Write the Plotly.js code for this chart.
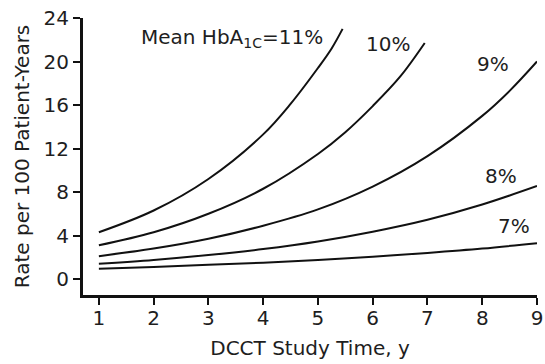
<!DOCTYPE html>
<html>
<head>
<meta charset="utf-8">
<script src="https://cdn.plot.ly/plotly-3.0.1.min.js"></script>
<style>html,body{margin:0;padding:0;background:#fff;}#chart{width:545px;height:364px;}</style>
</head>
<body>
<div id="chart"></div>
<script>
// Data (rate per 100 patient-years vs DCCT study time)
const years11 = [1, 2, 3, 4, 4.5, 5, 5.25, 5.45];
const rate11 = [4.3, 6.3, 9.2, 13.3, 16.1, 19.4, 21.2, 23.0];
const years10 = [1, 2, 3, 4, 5, 5.5, 6, 6.5, 6.95];
const rate10 = [3.1, 4.3, 6.0, 8.3, 11.5, 13.5, 15.9, 18.6, 21.7];
const years9 = [1, 2, 3, 4, 5, 6, 7, 8, 8.5, 9];
const rate9 = [2.1, 2.8, 3.7, 4.9, 6.4, 8.5, 11.3, 15.0, 17.3, 20.0];
const years8 = [1, 2, 3, 4, 5, 6, 7, 8, 9];
const rate8 = [1.4, 1.75, 2.2, 2.75, 3.45, 4.35, 5.45, 6.85, 8.55];
const years7 = [1, 2, 3, 4, 5, 6, 7, 8, 9];
const rate7 = [0.95, 1.1, 1.3, 1.5, 1.75, 2.05, 2.4, 2.8, 3.3];
const seriesLabels = ['Mean HbA<sub>1C</sub>=11%', '10%', '9%', '8%', '7%'];
const xTicks = [1, 2, 3, 4, 5, 6, 7, 8, 9];
const yTicks = [0, 4, 8, 12, 16, 20, 24];

const FONT = 'DejaVu Sans, Liberation Sans, Arial, sans-serif';
const TXT = '#1e1e1e';
const xs = [years11, years10, years9, years8, years7];
const ys = [rate11, rate10, rate9, rate8, rate7];
const traces = xs.map((x, i) => ({
  x: x, y: ys[i], type: 'scatter', mode: 'lines',
  line: {color: '#111', width: 2, shape: 'spline', smoothing: 1},
  hoverinfo: 'skip', showlegend: false
}));

const labelPos = [
  {x: 3.43, y: 22.2},
  {x: 6.28, y: 21.6},
  {x: 8.2, y: 19.8},
  {x: 8.34, y: 9.45},
  {x: 8.58, y: 4.85}
];
const annotations = seriesLabels.map((t, i) => ({
  x: labelPos[i].x, y: labelPos[i].y, xref: 'x', yref: 'y', text: t,
  showarrow: false, xanchor: 'center', yanchor: 'middle',
  font: {family: FONT, size: 20, color: TXT}
}));

const layout = {
  width: 545, height: 364,
  margin: {l: 83, r: 8, t: 18, b: 69},
  paper_bgcolor: '#fff', plot_bgcolor: '#fff',
  font: {family: FONT, color: TXT},
  xaxis: {
    range: [0.71, 9], tickvals: xTicks, ticktext: xTicks.map(String),
    showgrid: false, zeroline: false, showline: true, linecolor: '#111', linewidth: 3,
    ticks: 'outside', ticklen: 7, tickwidth: 2, tickcolor: '#111', ticklabelstandoff: -4,
    tickfont: {family: FONT, size: 20, color: TXT},
    title: {text: 'DCCT Study Time, y', font: {family: FONT, size: 20, color: TXT}, standoff: 12}
  },
  yaxis: {
    range: [-1.47, 24], tickvals: yTicks, ticktext: yTicks.map(String),
    showgrid: false, zeroline: false, showline: true, linecolor: '#111', linewidth: 3,
    ticks: 'outside', ticklen: 7, tickwidth: 2, tickcolor: '#111',
    tickfont: {family: FONT, size: 20, color: TXT},
    title: {text: 'Rate per 100 Patient-Years', font: {family: FONT, size: 20, color: TXT}, standoff: 9}
  },
  annotations: annotations
};

Plotly.newPlot('chart', traces, layout, {staticPlot: true, displayModeBar: false});
</script>
</body>
</html>
